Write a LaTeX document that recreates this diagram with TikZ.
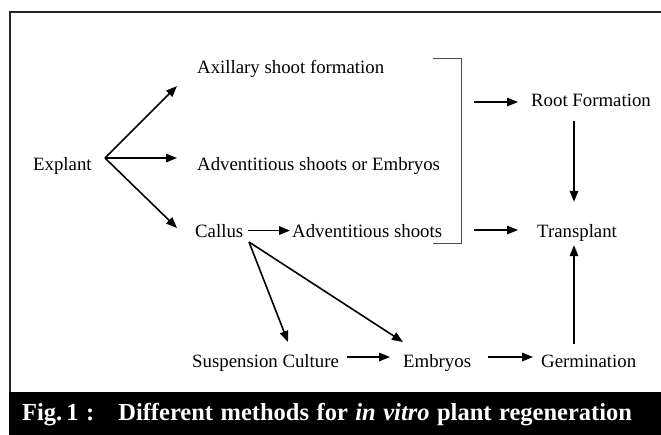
\documentclass[tikz,border=0pt]{standalone}
\usepackage{fontspec}
\setmainfont{Liberation Serif}
\usetikzlibrary{arrows.meta,calc}
\begin{document}
\begin{tikzpicture}[x=1pt,y=-1pt,
  lbl/.style={anchor=base west,inner sep=0pt,font=\fontsize{18.8}{22}\selectfont},
  arr/.style={line width=1.6pt,-{Triangle[length=11pt,width=8.5pt]}},
  brk/.style={line width=1pt,black!70},
  frame/.style={line width=2.6pt,black!85}]
\useasboundingbox (0,0) rectangle (661,434);
\clip (0,0) rectangle (661,434);
% frame and caption bar
\draw[frame] (10,392) -- (10,12) -- (675,12);
\fill[black] (9,392) rectangle (675,440);
\node[anchor=base west,inner sep=0pt,text=white,font=\bfseries\fontsize{24.5}{28}\selectfont] (cap) at (22,420)
  {\spaceskip=7.5pt plus 1pt Fig.\,1 :\hspace{24pt}Different methods for \textit{in vitro} plant regeneration};
% nodes
\node[lbl] (explant) at (33,170) {Explant};
\node[lbl] (axil) at (197,73) {Axillary shoot formation};
\node[lbl] (adv1) at (197,170) {Adventitious shoots or Embryos};
\node[lbl] (callus) at (195,237) {Callus};
\node[lbl] (adv2) at (292,237) {Adventitious shoots};
\node[lbl] (root) at (531,106) {Root Formation};
\node[lbl] (trans) at (537,237) {Transplant};
\node[lbl] (susp) at (192,367) {Suspension Culture};
\node[lbl] (emb) at (403,367) {Embryos};
\node[lbl] (germ) at (541,367) {Germination};
% coordinates
\coordinate (fan) at (105,158);
\coordinate (t1) at (177,86);
\coordinate (t2) at (177,158);
\coordinate (t3) at (177,228);
\coordinate (cb) at (249,242);
\coordinate (ts) at (288,342);
\coordinate (te) at (403,342);
\coordinate (colx) at (574,0);
\coordinate (bt) at (433,58);
\coordinate (bb) at (433,243);
% bracket
\draw[brk] (bt) -- ++(28,0) |- (bb);
% arrows
\draw[arr] (fan) -- (t1);
\draw[arr] (fan) -- (t2);
\draw[arr] (fan) -- (t3);
\draw[arr,shorten <=5pt,shorten >=2pt] (callus.east) -- (adv2.west);
\draw[arr] (cb) -- (ts);
\draw[arr] (cb) -- (te);
\draw[arr] ($(emb.base west)+(-56,-10)$) -- ($(emb.base west)+(-13,-10)$);
\draw[arr] ($(germ.base west)+(-53,-10)$) -- ($(germ.base west)+(-8,-10)$);
\draw[arr] ($(root.base west)+(-57,-4)$) -- ($(root.base west)+(-13,-4)$);
\draw[arr] ($(trans.base west)+(-63,-7)$) -- ($(trans.base west)+(-19,-7)$);
\draw[arr,shorten <=15pt,shorten >=22pt] (root.south -| colx) -- (trans.north -| colx);
\draw[arr,shorten <=10pt,shorten >=4pt] (germ.north -| colx) -- (trans.south -| colx);
\end{tikzpicture}
\end{document}
